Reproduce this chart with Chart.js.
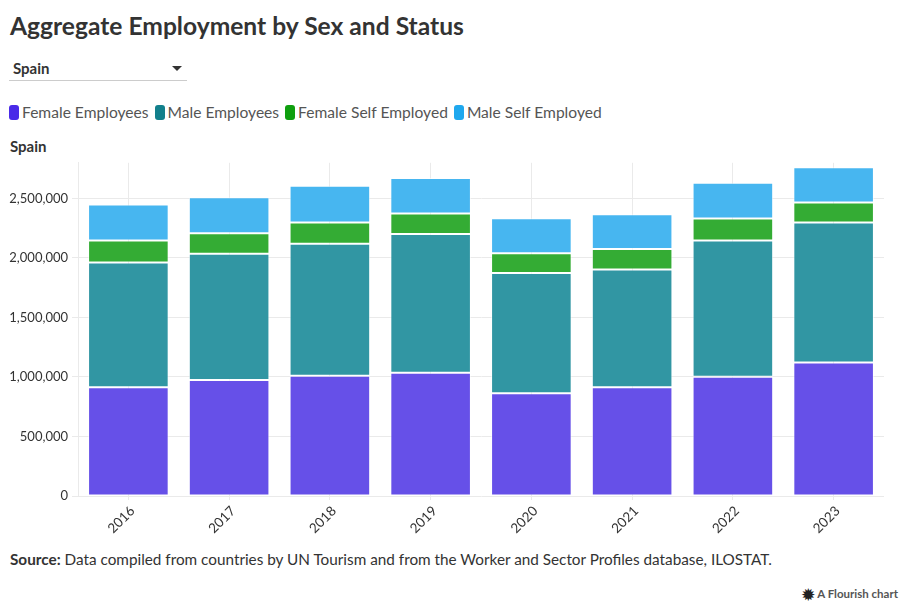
<!DOCTYPE html>
<html>
<head>
<meta charset="utf-8">
<script src="https://cdn.jsdelivr.net/npm/chart.js@4.4.1/dist/chart.umd.min.js"></script>
<style>
  html, body { margin:0; padding:0; background:#fff; width:908px; height:606px; overflow:hidden; font-family: "Lato", "Open Sans", sans-serif; color:#333; }
  #title { position:absolute; left:10px; top:11px; font-size:24.6px; font-weight:700; color:#333; }
  #dropdown { position:absolute; left:9px; top:58px; width:178px; height:22px; border-bottom:1px solid #ccc; }
  #dropdown span { position:absolute; left:4px; top:1px; font-size:15px; font-weight:700; color:#333; }
  #dropdown .arrow { position:absolute; right:5px; top:8px; width:0; height:0; border-left:5px solid transparent; border-right:5px solid transparent; border-top:5px solid #333; }
  #legend { position:absolute; left:9px; top:103px; font-size:15.6px; color:#555; white-space:nowrap; }
  #legend .item { display:inline-block; margin-right:6px; }
  #legend .sw { display:inline-block; width:10px; height:15px; border-radius:3px; vertical-align:-2px; margin-right:3px; }
  #ytitle { position:absolute; left:10px; top:137px; font-size:15px; font-weight:700; color:#333; }
  #wrap { position:absolute; left:0; top:151px; width:908px; height:394px; }
  #source { position:absolute; left:10px; top:550px; font-size:15.3px; color:#333; }
  #credit { position:absolute; right:10px; top:585px; font-size:11.5px; color:#555; font-weight:700; }
  #credit .ast { font-size:15px; vertical-align:-2px; color:#222; }
</style>
</head>
<body>
<div id="title">Aggregate Employment by Sex and Status</div>
<div id="dropdown"><span>Spain</span><div class="arrow"></div></div>
<div id="legend"></div>
<div id="ytitle">Spain</div>
<div id="wrap"><canvas id="c"></canvas></div>
<div id="source"><b>Source:</b> Data compiled from countries by UN Tourism and from the Worker and Sector Profiles database, ILOSTAT.</div>
<div id="credit"><span class="ast">&#10041;</span> A Flourish chart</div>
<script>
const years = ["2016","2017","2018","2019","2020","2021","2022","2023"];
const femaleEmployees = [913000, 975000, 1011000, 1036000, 864000, 913000, 1003000, 1121000];
const maleEmployees = [1050000, 1061000, 1108000, 1165000, 1009000, 991000, 1144000, 1178000];
const femaleSelfEmployed = [184000, 173000, 180000, 174000, 167000, 172000, 184000, 167000];
const maleSelfEmployed = [302000, 302000, 309000, 297000, 293000, 291000, 302000, 297000];
const seriesNames = ["Female Employees", "Male Employees", "Female Self Employed", "Male Self Employed"];
const legendColors = ["#4a2ae8", "#12808c", "#0f9f0f", "#1fa8ee"];
const barColors = ["#6650e8", "#3196a3", "#34ac34", "#47b6f0"];
const yTicks = [0, 500000, 1000000, 1500000, 2000000, 2500000];

const legend = document.getElementById('legend');
seriesNames.forEach((n, i) => {
  const d = document.createElement('span');
  d.className = 'item';
  d.innerHTML = '<span class="sw" style="background:' + legendColors[i] + '"></span>' + n;
  legend.appendChild(d);
});

const seriesData = [femaleEmployees, maleEmployees, femaleSelfEmployed, maleSelfEmployed];
const datasets = seriesData.map((arr, i) => ({
  label: seriesNames[i],
  data: arr,
  backgroundColor: barColors[i],
  borderColor: 'rgba(255,255,255,0.6)',
  borderWidth: 1,
  borderSkipped: false,
  barPercentage: 0.8,
  categoryPercentage: 1.0
}));

new Chart(document.getElementById('c'), {
  type: 'bar',
  data: { labels: years, datasets },
  options: {
    responsive: true,
    maintainAspectRatio: false,
    animation: false,
    layout: { padding: { left: 0, right: 24, top: 3, bottom: 0 } },
    plugins: { legend: { display: false }, tooltip: { enabled: false } },
    scales: {
      x: {
        stacked: true,
        grid: { offset: false, color: '#eaeaea', drawTicks: true, tickLength: 4 },
        border: { display: false },
        ticks: { color: '#333', font: { family: 'Lato', size: 13.5 }, maxRotation: 45, minRotation: 45, padding: 3, labelOffset: 4 },
        afterFit: s => { s.height = 49; }
      },
      y: {
        stacked: true,
        min: 0,
        max: 2800000,
        afterBuildTicks: s => { s.ticks = yTicks.map(v => ({ value: v })); },
        grid: { color: '#eaeaea', drawTicks: true, tickLength: 6 },
        border: { display: true, color: '#eaeaea' },
        ticks: {
          color: '#333', font: { family: 'Lato', size: 13 }, padding: 4,
          callback: v => v.toLocaleString('en-US')
        },
        afterFit: s => { s.width = 78; }
      }
    }
  }
});
</script>
</body>
</html>
